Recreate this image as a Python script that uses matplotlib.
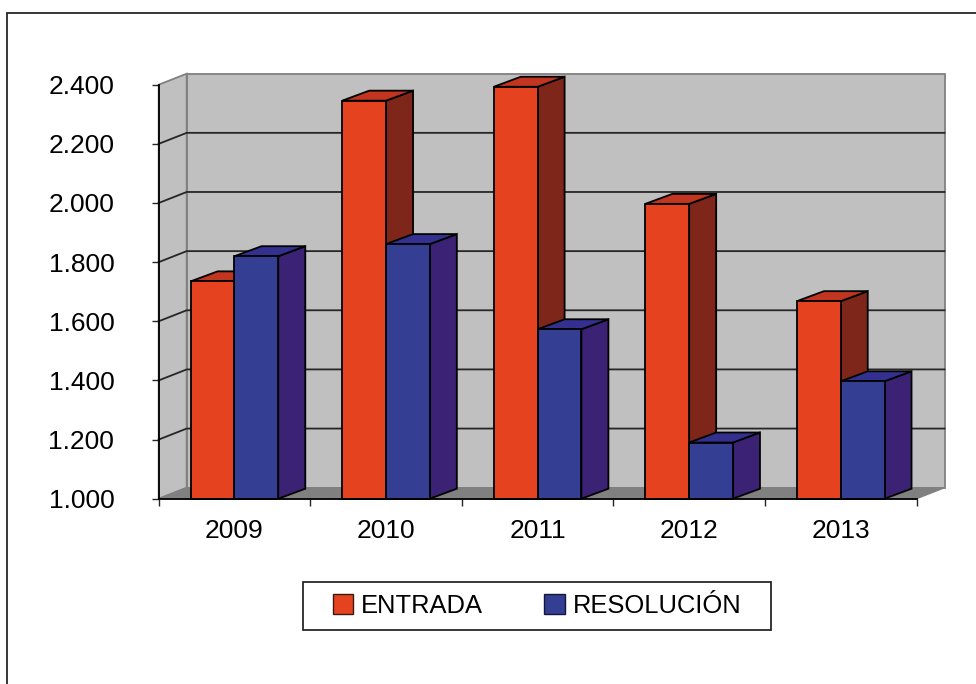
import matplotlib
matplotlib.use("Agg")
import matplotlib.pyplot as plt
from matplotlib.patches import Patch, Rectangle

plt.rcParams["font.family"] = ["Liberation Sans", "DejaVu Sans"]

# ---- data ----
years = ["2009", "2010", "2011", "2012", "2013"]
entrada = [1735, 2346, 2393, 1997, 1668]
resolucion = [1820, 1861, 1573, 1190, 1397]
y_ticks = [1000, 1200, 1400, 1600, 1800, 2000, 2200, 2400]
y_labels = ["1.000", "1.200", "1.400", "1.600", "1.800", "2.000", "2.200", "2.400"]

# ---- layout, in pixels of the 976x684 picture ----
W, H = 976, 684
AX_L, AX_R, AX_T, AX_B = 158.7, 916.5, 84.7, 498.7
WALL_DX, WALL_DY = 28.0, 11.0
BAR_DX, BAR_DY = 27.0, 10.0
BAR_W = 43.8

# colours
RED, RED_TOP, RED_SIDE = "#E5431F", "#C23520", "#7E261A"
BLUE, BLUE_TOP, BLUE_SIDE = "#343E92", "#343090", "#3B2274"
WALL, FLOOR, EDGE = "#C0C0C0", "#808080", "#808080"

fig = plt.figure(figsize=(W / 100, H / 100), dpi=100)
ax = fig.add_axes([AX_L / W, 1 - AX_B / H, (AX_R - AX_L) / W, (AX_B - AX_T) / H])
ax.set_xlim(0, len(years))
ax.set_ylim(y_ticks[0], y_ticks[-1])
ax.patch.set_visible(False)

# pixel sizes converted to data units
px_x = len(years) / (AX_R - AX_L)
px_y = (y_ticks[-1] - y_ticks[0]) / (AX_B - AX_T)
wall_dx, wall_dy = WALL_DX * px_x, WALL_DY * px_y
bar_dx, bar_dy = BAR_DX * px_x, BAR_DY * px_y
bar_w = BAR_W * px_x
gap = (1 - 2 * bar_w) / 2

n = len(years)
y0, y1 = y_ticks[0], y_ticks[-1]

# back wall, left wall and floor
ax.fill([wall_dx, n + wall_dx, n + wall_dx, wall_dx],
        [y0 + wall_dy, y0 + wall_dy, y1 + wall_dy, y1 + wall_dy],
        fc=WALL, ec=EDGE, lw=1.3, clip_on=False, zorder=1)
ax.fill([0, wall_dx, wall_dx, 0], [y0, y0 + wall_dy, y1 + wall_dy, y1],
        fc=WALL, ec=EDGE, lw=1.3, clip_on=False, zorder=1)
ax.fill([0, n, n + wall_dx, wall_dx], [y0, y0, y0 + wall_dy, y0 + wall_dy],
        fc=FLOOR, ec=EDGE, lw=1.0, clip_on=False, zorder=1)

# gridlines run along both walls
for t in y_ticks[1:-1]:
    ax.plot([0, wall_dx, n + wall_dx], [t, t + wall_dy, t + wall_dy],
            color="#262626", lw=1.3, clip_on=False, zorder=2)


def draw_bar(x, value, front, top, side, z):
    ax.fill([x + bar_w, x + bar_w + bar_dx, x + bar_w + bar_dx, x + bar_w],
            [y0, y0 + bar_dy, value + bar_dy, value],
            fc=side, ec="black", lw=1.3, clip_on=False, zorder=z)
    ax.fill([x, x + bar_dx, x + bar_w + bar_dx, x + bar_w],
            [value, value + bar_dy, value + bar_dy, value],
            fc=top, ec="black", lw=1.3, clip_on=False, zorder=z)
    ax.fill([x, x + bar_w, x + bar_w, x], [y0, y0, value, value],
            fc=front, ec="black", lw=1.3, clip_on=False, zorder=z)


for i in range(n):
    draw_bar(i + gap, entrada[i], RED, RED_TOP, RED_SIDE, 3 + i * 2)
    draw_bar(i + gap + bar_w, resolucion[i], BLUE, BLUE_TOP, BLUE_SIDE, 4 + i * 2)

# axes
for name in ["top", "right"]:
    ax.spines[name].set_visible(False)
for name in ["left", "bottom"]:
    ax.spines[name].set_linewidth(1.3)
    ax.spines[name].set_zorder(20)
ax.set_yticks(y_ticks, y_labels)
ax.set_xticks(range(n + 1))
ax.set_xticks([i + 0.5 for i in range(n)], years, minor=True)
ax.set_xticklabels([])
ax.tick_params(axis="x", which="major", length=5, width=1.0, color="#262626")
ax.tick_params(axis="x", which="minor", length=0, pad=14.5, labelsize=19)
ax.tick_params(axis="y", length=5, width=1.0, pad=27, labelsize=19, color="#262626")

# legend, box drawn apart so its size can be set exactly
fig.add_artist(Rectangle((303 / W, 1 - 630 / H), 468 / W, 48 / H, transform=fig.transFigure,
                         fc="white", ec="#262626", lw=1.3))
handles = [Patch(fc=RED, ec="#3a1a10", label="ENTRADA"),
           Patch(fc=BLUE, ec="#15153a", label="RESOLUCIÓN")]
leg = fig.legend(handles=handles, ncol=2, loc="center", bbox_to_anchor=(537 / W, 1 - 606 / H),
                 frameon=False, fontsize=18.4, borderpad=0, handlelength=0.8, handleheight=0.8,
                 handletextpad=0.3, columnspacing=2.4)
leg.set_zorder(5)

# outer chart border
fig.add_artist(Rectangle((6.5 / W, -5 / H), 980 / W, (H - 12.5 + 5) / H, transform=fig.transFigure,
                         fc="none", ec="#262626", lw=1.3))

fig.savefig("out.png", dpi=100)
